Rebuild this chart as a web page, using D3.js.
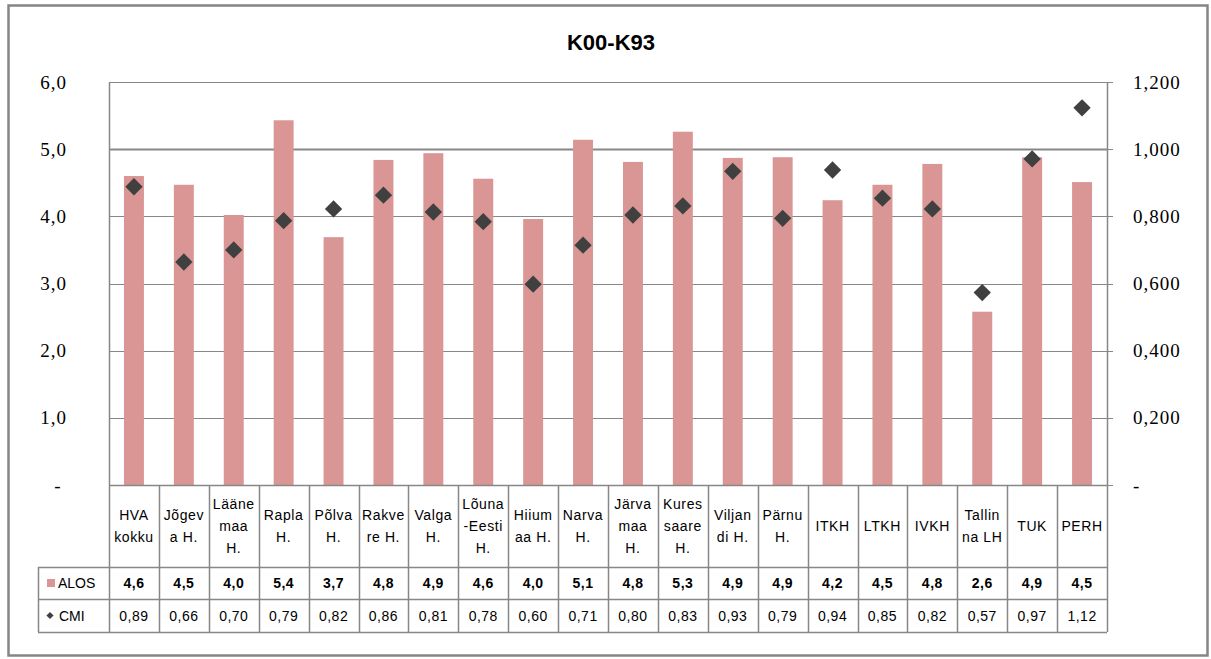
<!DOCTYPE html>
<html>
<head>
<meta charset="utf-8">
<script src="https://cdn.jsdelivr.net/npm/d3@7"></script>
<style>
  html, body { margin: 0; padding: 0; background: #fff; }
  svg { display: block; }
</style>
</head>
<body>
<svg id="chart" width="1211" height="659"></svg>
<script>
// ---- data ----
const title = "K00-K93";
const categories = [
  "HVA\nkokku", "Jõgev\na H.", "Lääne\nmaa\nH.", "Rapla\nH.", "Põlva\nH.",
  "Rakve\nre H.", "Valga\nH.", "Lõuna\n-Eesti\nH.", "Hiium\naa H.", "Narva\nH.",
  "Järva\nmaa\nH.", "Kures\nsaare\nH.", "Viljan\ndi H.", "Pärnu\nH.", "ITKH",
  "LTKH", "IVKH", "Tallin\nna LH", "TUK", "PERH"
];
const alos = [4.60, 4.47, 4.02, 5.43, 3.69, 4.84, 4.94, 4.56, 3.96, 5.14,
              4.81, 5.26, 4.87, 4.88, 4.24, 4.47, 4.78, 2.58, 4.88, 4.51];
const cmi  = [0.888, 0.664, 0.700, 0.787, 0.822, 0.863, 0.813, 0.784, 0.598, 0.714,
              0.804, 0.831, 0.934, 0.794, 0.938, 0.854, 0.822, 0.573, 0.971, 1.123];
const leftTicks  = [0, 1, 2, 3, 4, 5, 6];
const rightTicks = [0, 0.2, 0.4, 0.6, 0.8, 1.0, 1.2];
const seriesNames = ["ALOS", "CMI"];

// ---- layout ----
const svg = d3.select("#chart");
const L = 109, R = 1107, T = 82, B = 485;
const rowH = [485, 567, 599, 632];
const legendLeft = 38;
const gridColor = "#878787";
const barColor = "#d99694";
const markColor = "#404040";
const sans = "'Liberation Sans', Arial, sans-serif";
const serif = "'Liberation Serif', 'Times New Roman', serif";

const idx = d3.range(categories.length);
const xBand = d3.scaleBand().domain(idx).range([L, R]).paddingInner(0.6).paddingOuter(0.3);
const xCell = d3.scaleBand().domain(idx).range([L, R]).padding(0);
const yL = d3.scaleLinear().domain([0, 6]).range([B, T]);
const yR = d3.scaleLinear().domain([0, 1.2]).range([B, T]);

const comma = (f) => (v) => d3.format(f)(v).replace(".", ",");

// outer border
svg.append("rect").attr("x", 8.5).attr("y", 5.5).attr("width", 1199).attr("height", 650)
  .attr("fill", "none").attr("stroke", "#858585").attr("stroke-width", 2.5);

// title
svg.append("text").attr("x", 611).attr("y", 50).attr("text-anchor", "middle")
  .attr("font-family", sans).attr("font-weight", "bold").attr("font-size", 22)
  .attr("fill", "#000").text(title);

// gridlines (left axis)
svg.append("g").selectAll("line").data(leftTicks).join("line")
  .attr("x1", L).attr("x2", R)
  .attr("y1", d => Math.round(yL(d)) + 0.5).attr("y2", d => Math.round(yL(d)) + 0.5)
  .attr("stroke", gridColor).attr("stroke-width", d => d === 5 ? 2 : 1);

// right axis ticks
svg.append("g").selectAll("line").data(rightTicks).join("line")
  .attr("x1", R).attr("x2", R + 6)
  .attr("y1", d => Math.round(yR(d)) + 0.5).attr("y2", d => Math.round(yR(d)) + 0.5)
  .attr("stroke", gridColor).attr("stroke-width", 1);

// vertical axis lines
svg.append("line").attr("x1", L + 0.5).attr("x2", L + 0.5).attr("y1", T).attr("y2", rowH[3])
  .attr("stroke", gridColor).attr("stroke-width", 1.5);
svg.append("line").attr("x1", R + 0.5).attr("x2", R + 0.5).attr("y1", T).attr("y2", rowH[3])
  .attr("stroke", gridColor).attr("stroke-width", 1.5);

// left tick labels
svg.append("g").selectAll("text").data(leftTicks).join("text")
  .attr("x", d => d === 0 ? 58 : 67).attr("y", d => yL(d))
  .attr("text-anchor", d => d === 0 ? "middle" : "end")
  .attr("dominant-baseline", "central")
  .attr("font-family", serif).attr("font-size", 19).attr("letter-spacing", 1)
  .attr("fill", "#000")
  .text(d => d === 0 ? "-" : comma(".1f")(d));

// right tick labels
svg.append("g").selectAll("text").data(rightTicks).join("text")
  .attr("x", 1133).attr("y", d => yR(d))
  .attr("text-anchor", "start")
  .attr("dominant-baseline", "central")
  .attr("font-family", serif).attr("font-size", 19).attr("letter-spacing", 1)
  .attr("fill", "#000")
  .text(d => d === 0 ? "-" : comma(".3f")(d));

// bars
svg.append("g").selectAll("rect").data(idx).join("rect")
  .attr("x", i => xBand(i)).attr("width", xBand.bandwidth())
  .attr("y", i => yL(alos[i])).attr("height", i => B - yL(alos[i]))
  .attr("fill", barColor);

// markers
const diamond = d3.symbol().type(d3.symbolSquare).size(150);
svg.append("g").selectAll("path").data(idx).join("path")
  .attr("d", diamond)
  .attr("transform", i => `translate(${xBand(i) + xBand.bandwidth() / 2},${yR(cmi[i])}) rotate(45)`)
  .attr("fill", markColor);

// data table
const tg = svg.append("g");
// horizontal lines
tg.append("line").attr("x1", L).attr("x2", R).attr("y1", B + 0.5).attr("y2", B + 0.5)
  .attr("stroke", gridColor).attr("stroke-width", 1.5);
[rowH[1], rowH[2], rowH[3]].forEach(y => {
  tg.append("line").attr("x1", legendLeft).attr("x2", R).attr("y1", y + 0.5).attr("y2", y + 0.5)
    .attr("stroke", gridColor).attr("stroke-width", 1.5);
});
// legend column left border
tg.append("line").attr("x1", legendLeft + 0.5).attr("x2", legendLeft + 0.5)
  .attr("y1", rowH[1]).attr("y2", rowH[3]).attr("stroke", gridColor).attr("stroke-width", 1.5);
// category separators
tg.selectAll("line.sep").data(idx.slice(1)).join("line").attr("class", "sep")
  .attr("x1", i => Math.round(xCell(i)) + 0.5).attr("x2", i => Math.round(xCell(i)) + 0.5)
  .attr("y1", B).attr("y2", rowH[3]).attr("stroke", gridColor).attr("stroke-width", 1.5);

// category labels
const catCenterY = (rowH[0] + rowH[1]) / 2;
const lineH = 22;
tg.selectAll("g.cat").data(idx).join("g").attr("class", "cat")
  .each(function (i) {
    const lines = categories[i].split("\n");
    const g = d3.select(this);
    lines.forEach((ln, k) => {
      g.append("text")
        .attr("x", xCell(i) + xCell.bandwidth() / 2)
        .attr("y", catCenterY + (k - (lines.length - 1) / 2) * lineH)
        .attr("text-anchor", "middle").attr("dominant-baseline", "central")
        .attr("font-family", sans).attr("font-size", 14).attr("letter-spacing", 0.6)
        .attr("fill", "#000").text(ln);
    });
  });

// value rows
const rowCenter1 = (rowH[1] + rowH[2]) / 2;
const rowCenter2 = (rowH[2] + rowH[3]) / 2;
tg.selectAll("text.alos").data(idx).join("text").attr("class", "alos")
  .attr("x", i => xCell(i) + xCell.bandwidth() / 2).attr("y", rowCenter1)
  .attr("text-anchor", "middle").attr("dominant-baseline", "central")
  .attr("font-family", sans).attr("font-size", 14).attr("font-weight", "bold").attr("letter-spacing", 0.5)
  .attr("fill", "#000").text(i => comma(".1f")(alos[i]));
tg.selectAll("text.cmi").data(idx).join("text").attr("class", "cmi")
  .attr("x", i => xCell(i) + xCell.bandwidth() / 2).attr("y", rowCenter2)
  .attr("text-anchor", "middle").attr("dominant-baseline", "central")
  .attr("font-family", sans).attr("font-size", 14).attr("letter-spacing", 0.5)
  .attr("fill", "#000").text(i => comma(".2f")(cmi[i]));

// legend keys
tg.append("rect").attr("x", 47).attr("y", rowCenter1 - 4).attr("width", 8).attr("height", 8)
  .attr("fill", barColor);
tg.append("text").attr("x", 58).attr("y", rowCenter1)
  .attr("dominant-baseline", "central").attr("font-family", sans).attr("font-size", 14)
  .attr("fill", "#000").text(seriesNames[0]);
tg.append("path").attr("d", d3.symbol().type(d3.symbolSquare).size(26))
  .attr("transform", `translate(50,${rowCenter2}) rotate(45)`).attr("fill", markColor);
tg.append("text").attr("x", 59).attr("y", rowCenter2)
  .attr("dominant-baseline", "central").attr("font-family", sans).attr("font-size", 14)
  .attr("fill", "#000").text(seriesNames[1]);
</script>
</body>
</html>
